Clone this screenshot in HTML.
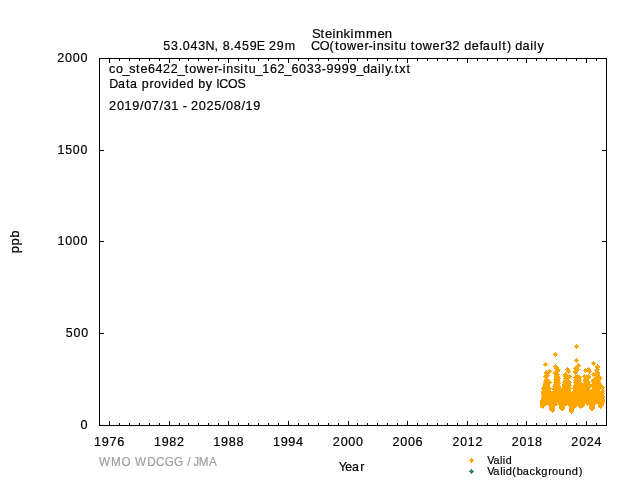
<!DOCTYPE html>
<html><head><meta charset="utf-8"><title>Steinkimmen CO</title>
<style>
html,body{margin:0;padding:0;background:#fff;}
body{width:640px;height:480px;overflow:hidden;font-family:"Liberation Sans",sans-serif;}
svg{display:block;will-change:transform}
text{font-family:"Liberation Sans",sans-serif;stroke-width:0.2px}
</style></head><body>
<svg width="640" height="480" viewBox="0 0 640 480">
<rect width="640" height="480" fill="#fff"/>
<path fill="#ffa500" shape-rendering="crispEdges" d="M576 344h1v1h-1zM575 345h3v1h-3zM574 346h5v1h-5zM575 347h3v1h-3zM576 348h1v1h-1zM555 352h1v1h-1zM554 353h3v1h-3zM553 354h5v1h-5zM554 355h3v1h-3zM555 356h1v1h-1zM576 358h1v1h-1zM575 359h3v1h-3zM574 360h5v1h-5zM575 361h3v1h-3zM593 361h1v1h-1zM545 362h1v1h-1zM576 362h1v1h-1zM592 362h3v1h-3zM544 363h3v1h-3zM578 363h1v1h-1zM591 363h5v1h-5zM543 364h5v1h-5zM555 364h1v1h-1zM577 364h3v1h-3zM592 364h3v1h-3zM597 364h1v1h-1zM544 365h3v1h-3zM554 365h3v1h-3zM576 365h5v1h-5zM593 365h1v1h-1zM596 365h3v1h-3zM545 366h1v1h-1zM553 366h5v1h-5zM575 366h5v1h-5zM595 366h5v1h-5zM554 367h5v1h-5zM567 367h1v1h-1zM574 367h5v1h-5zM588 367h1v1h-1zM595 367h5v1h-5zM554 368h5v1h-5zM566 368h3v1h-3zM573 368h6v1h-6zM585 368h1v1h-1zM587 368h3v1h-3zM596 368h3v1h-3zM549 369h1v1h-1zM555 369h5v1h-5zM565 369h5v1h-5zM574 369h6v1h-6zM584 369h7v1h-7zM595 369h5v1h-5zM546 370h1v1h-1zM548 370h3v1h-3zM555 370h5v1h-5zM566 370h4v1h-4zM574 370h5v1h-5zM583 370h8v1h-8zM594 370h5v1h-5zM545 371h7v1h-7zM554 371h6v1h-6zM566 371h5v1h-5zM573 371h5v1h-5zM584 371h8v1h-8zM595 371h4v1h-4zM544 372h7v1h-7zM553 372h5v1h-5zM565 372h1v1h-1zM567 372h3v1h-3zM573 372h5v1h-5zM585 372h1v1h-1zM588 372h3v1h-3zM593 372h1v1h-1zM595 372h5v1h-5zM544 373h6v1h-6zM553 373h6v1h-6zM564 373h3v1h-3zM568 373h1v1h-1zM574 373h3v1h-3zM589 373h1v1h-1zM592 373h8v1h-8zM545 374h4v1h-4zM554 374h6v1h-6zM563 374h5v1h-5zM569 374h1v1h-1zM575 374h1v1h-1zM577 374h1v1h-1zM584 374h1v1h-1zM588 374h1v1h-1zM591 374h9v1h-9zM544 375h6v1h-6zM554 375h5v1h-5zM563 375h8v1h-8zM575 375h5v1h-5zM583 375h7v1h-7zM592 375h8v1h-8zM543 376h6v1h-6zM554 376h6v1h-6zM563 376h9v1h-9zM574 376h7v1h-7zM582 376h9v1h-9zM593 376h1v1h-1zM595 376h6v1h-6zM544 377h4v1h-4zM554 377h6v1h-6zM564 377h7v1h-7zM573 377h9v1h-9zM583 377h8v1h-8zM594 377h8v1h-8zM545 378h3v1h-3zM554 378h7v1h-7zM563 378h7v1h-7zM574 378h7v1h-7zM584 378h6v1h-6zM593 378h9v1h-9zM544 379h5v1h-5zM553 379h7v1h-7zM564 379h5v1h-5zM574 379h7v1h-7zM583 379h6v1h-6zM592 379h9v1h-9zM544 380h6v1h-6zM554 380h6v1h-6zM563 380h7v1h-7zM573 380h9v1h-9zM583 380h6v1h-6zM591 380h10v1h-10zM543 381h8v1h-8zM554 381h6v1h-6zM563 381h8v1h-8zM574 381h7v1h-7zM583 381h7v1h-7zM591 381h9v1h-9zM544 382h8v1h-8zM553 382h7v1h-7zM562 382h10v1h-10zM573 382h9v1h-9zM584 382h7v1h-7zM592 382h9v1h-9zM543 383h8v1h-8zM554 383h7v1h-7zM563 383h8v1h-8zM574 383h16v1h-16zM592 383h9v1h-9zM543 384h7v1h-7zM553 384h7v1h-7zM562 384h9v1h-9zM574 384h28v1h-28zM543 385h7v1h-7zM553 385h7v1h-7zM562 385h10v1h-10zM573 385h30v1h-30zM542 386h8v1h-8zM552 386h9v1h-9zM562 386h9v1h-9zM573 386h31v1h-31zM542 387h9v1h-9zM553 387h8v1h-8zM562 387h9v1h-9zM573 387h18v1h-18zM592 387h13v1h-13zM541 388h49v1h-49zM592 388h12v1h-12zM542 389h9v1h-9zM552 389h19v1h-19zM573 389h17v1h-17zM591 389h10v1h-10zM602 389h2v1h-2zM542 390h9v1h-9zM553 390h18v1h-18zM573 390h27v1h-27zM601 390h3v1h-3zM541 391h30v1h-30zM572 391h33v1h-33zM541 392h63v1h-63zM541 393h64v1h-64zM541 394h63v1h-63zM542 395h62v1h-62zM541 396h64v1h-64zM542 397h63v1h-63zM541 398h63v1h-63zM541 399h64v1h-64zM540 400h65v1h-65zM540 401h65v1h-65zM540 402h65v1h-65zM540 403h17v1h-17zM558 403h46v1h-46zM540 404h45v1h-45zM586 404h10v1h-10zM598 404h6v1h-6zM540 405h6v1h-6zM548 405h9v1h-9zM559 405h8v1h-8zM568 405h17v1h-17zM587 405h1v1h-1zM589 405h6v1h-6zM598 405h6v1h-6zM540 406h5v1h-5zM549 406h6v1h-6zM559 406h6v1h-6zM569 406h8v1h-8zM578 406h6v1h-6zM589 406h6v1h-6zM598 406h5v1h-5zM541 407h3v1h-3zM549 407h6v1h-6zM559 407h6v1h-6zM569 407h7v1h-7zM579 407h4v1h-4zM589 407h6v1h-6zM599 407h3v1h-3zM542 408h1v1h-1zM549 408h6v1h-6zM559 408h6v1h-6zM569 408h6v1h-6zM580 408h1v1h-1zM589 408h6v1h-6zM600 408h1v1h-1zM549 409h6v1h-6zM560 409h4v1h-4zM569 409h5v1h-5zM590 409h4v1h-4zM550 410h5v1h-5zM561 410h2v1h-2zM569 410h5v1h-5zM591 410h2v1h-2zM551 411h3v1h-3zM569 411h5v1h-5zM552 412h1v1h-1zM570 412h3v1h-3zM571 413h1v1h-1z"/>
<g fill="#000" shape-rendering="crispEdges">
<rect x="99" y="58" width="508" height="1"/>
<rect x="99" y="425" width="508" height="1"/>
<rect x="99" y="58" width="1" height="368"/>
<rect x="606" y="58" width="1" height="368"/>
<rect x="109" y="421" width="1" height="4"/><rect x="109" y="59" width="1" height="4"/><rect x="119" y="423" width="1" height="2"/><rect x="119" y="59" width="1" height="2"/><rect x="129" y="423" width="1" height="2"/><rect x="129" y="59" width="1" height="2"/><rect x="139" y="423" width="1" height="2"/><rect x="139" y="59" width="1" height="2"/><rect x="149" y="423" width="1" height="2"/><rect x="149" y="59" width="1" height="2"/><rect x="159" y="423" width="1" height="2"/><rect x="159" y="59" width="1" height="2"/><rect x="169" y="421" width="1" height="4"/><rect x="169" y="59" width="1" height="4"/><rect x="179" y="423" width="1" height="2"/><rect x="179" y="59" width="1" height="2"/><rect x="188" y="423" width="1" height="2"/><rect x="188" y="59" width="1" height="2"/><rect x="198" y="423" width="1" height="2"/><rect x="198" y="59" width="1" height="2"/><rect x="208" y="423" width="1" height="2"/><rect x="208" y="59" width="1" height="2"/><rect x="218" y="423" width="1" height="2"/><rect x="218" y="59" width="1" height="2"/><rect x="228" y="421" width="1" height="4"/><rect x="228" y="59" width="1" height="4"/><rect x="238" y="423" width="1" height="2"/><rect x="238" y="59" width="1" height="2"/><rect x="248" y="423" width="1" height="2"/><rect x="248" y="59" width="1" height="2"/><rect x="258" y="423" width="1" height="2"/><rect x="258" y="59" width="1" height="2"/><rect x="268" y="423" width="1" height="2"/><rect x="268" y="59" width="1" height="2"/><rect x="278" y="423" width="1" height="2"/><rect x="278" y="59" width="1" height="2"/><rect x="288" y="421" width="1" height="4"/><rect x="288" y="59" width="1" height="4"/><rect x="298" y="423" width="1" height="2"/><rect x="298" y="59" width="1" height="2"/><rect x="308" y="423" width="1" height="2"/><rect x="308" y="59" width="1" height="2"/><rect x="318" y="423" width="1" height="2"/><rect x="318" y="59" width="1" height="2"/><rect x="328" y="423" width="1" height="2"/><rect x="328" y="59" width="1" height="2"/><rect x="338" y="423" width="1" height="2"/><rect x="338" y="59" width="1" height="2"/><rect x="348" y="421" width="1" height="4"/><rect x="348" y="59" width="1" height="4"/><rect x="357" y="423" width="1" height="2"/><rect x="357" y="59" width="1" height="2"/><rect x="367" y="423" width="1" height="2"/><rect x="367" y="59" width="1" height="2"/><rect x="377" y="423" width="1" height="2"/><rect x="377" y="59" width="1" height="2"/><rect x="387" y="423" width="1" height="2"/><rect x="387" y="59" width="1" height="2"/><rect x="397" y="423" width="1" height="2"/><rect x="397" y="59" width="1" height="2"/><rect x="407" y="421" width="1" height="4"/><rect x="407" y="59" width="1" height="4"/><rect x="417" y="423" width="1" height="2"/><rect x="417" y="59" width="1" height="2"/><rect x="427" y="423" width="1" height="2"/><rect x="427" y="59" width="1" height="2"/><rect x="437" y="423" width="1" height="2"/><rect x="437" y="59" width="1" height="2"/><rect x="447" y="423" width="1" height="2"/><rect x="447" y="59" width="1" height="2"/><rect x="457" y="423" width="1" height="2"/><rect x="457" y="59" width="1" height="2"/><rect x="467" y="421" width="1" height="4"/><rect x="467" y="59" width="1" height="4"/><rect x="477" y="423" width="1" height="2"/><rect x="477" y="59" width="1" height="2"/><rect x="487" y="423" width="1" height="2"/><rect x="487" y="59" width="1" height="2"/><rect x="497" y="423" width="1" height="2"/><rect x="497" y="59" width="1" height="2"/><rect x="507" y="423" width="1" height="2"/><rect x="507" y="59" width="1" height="2"/><rect x="517" y="423" width="1" height="2"/><rect x="517" y="59" width="1" height="2"/><rect x="526" y="421" width="1" height="4"/><rect x="526" y="59" width="1" height="4"/><rect x="536" y="423" width="1" height="2"/><rect x="536" y="59" width="1" height="2"/><rect x="546" y="423" width="1" height="2"/><rect x="546" y="59" width="1" height="2"/><rect x="556" y="423" width="1" height="2"/><rect x="556" y="59" width="1" height="2"/><rect x="566" y="423" width="1" height="2"/><rect x="566" y="59" width="1" height="2"/><rect x="576" y="423" width="1" height="2"/><rect x="576" y="59" width="1" height="2"/><rect x="586" y="421" width="1" height="4"/><rect x="586" y="59" width="1" height="4"/><rect x="596" y="423" width="1" height="2"/><rect x="596" y="59" width="1" height="2"/>
<rect x="100" y="425" width="4" height="1"/><rect x="602" y="425" width="4" height="1"/><rect x="100" y="333" width="4" height="1"/><rect x="602" y="333" width="4" height="1"/><rect x="100" y="241" width="4" height="1"/><rect x="602" y="241" width="4" height="1"/><rect x="100" y="150" width="4" height="1"/><rect x="602" y="150" width="4" height="1"/><rect x="100" y="58" width="4" height="1"/><rect x="602" y="58" width="4" height="1"/>
</g>
<text transform="translate(0 38) scale(1.0461 1)" x="298.25 306.49 310.65 317.77 321.09 328.48 335.11 338.65 349.90 360.82 367.92" y="0" font-size="12.5" fill="#000" stroke="#000">Steinkimmen</text>
<text transform="translate(0 50) scale(0.9976 1)" x="163.70 171.51 179.07 183.13 190.88 198.65 206.02 215.13 219.13 223.18 230.75 234.81 242.51 250.28 257.31 265.65 269.54 277.41 285.54" y="0" font-size="12.5" fill="#000" stroke="#000">53.043N, 8.459E 29m</text>
<text transform="translate(0 50) scale(1.0150 1)" x="306.38 315.13 324.70 330.06 334.38 341.79 351.43 359.06 362.95 367.57 371.07 378.37 384.89 388.64 393.06 400.52 404.71 409.03 416.44 426.07 433.71 438.47 445.86 453.43 457.28 464.82 472.37 475.67 483.46 491.03 494.79 499.50 503.83 507.67 514.72 522.53 525.99 529.57" y="0" font-size="12.5" fill="#000" stroke="#000">CO(tower-insitu tower32 default) daily</text>
<text transform="translate(0 73) scale(1.0038 1)" x="108.60 115.44 122.10 128.67 135.52 139.94 147.34 154.97 162.43 170.06 177.05 184.12 188.50 195.99 205.69 213.38 217.30 221.95 225.50 232.86 239.42 243.21 247.69 254.56 261.32 269.01 276.47 283.47 290.29 297.91 305.55 313.18 320.54 325.20 332.82 340.44 348.07 354.94 361.69 368.80 376.65 380.14 383.77 388.92 393.15 397.72 404.90" y="0" font-size="12.5" fill="#000" stroke="#000">co_ste6422_tower-insitu_162_6033-9999_daily.txt</text>
<text transform="translate(0 88) scale(0.9921 1)" x="110.03 118.92 127.09 131.06 138.82 142.91 150.78 155.16 162.74 169.62 173.12 180.77 188.14 195.72 199.80 207.48 214.25 217.95 221.07 229.95 239.38" y="0" font-size="12.5" fill="#000" stroke="#000">Data provided by ICOS</text>
<text transform="translate(0 110) scale(1.0172 1)" x="107.27 114.98 122.46 130.04 137.60 141.72 149.24 156.79 160.92 168.39 175.87 179.55 184.05 187.81 195.51 202.91 210.57 218.14 222.25 229.80 237.33 241.38 248.95" y="0" font-size="12.5" fill="#000" stroke="#000">2019/07/31 - 2025/08/19</text>
<text transform="translate(0 429) scale(1.0120 1)" x="79.51" y="0" font-size="12.5" fill="#000" stroke="#000">0</text>
<text transform="translate(0 337) scale(0.9931 1)" x="66.28 74.06 81.79" y="0" font-size="12.5" fill="#000" stroke="#000">500</text>
<text transform="translate(0 245) scale(1.0015 1)" x="57.31 65.04 72.71 80.38" y="0" font-size="12.5" fill="#000" stroke="#000">1000</text>
<text transform="translate(0 154) scale(0.9869 1)" x="58.21 66.00 73.83 81.61" y="0" font-size="12.5" fill="#000" stroke="#000">1500</text>
<text transform="translate(0 62) scale(1.0032 1)" x="57.11 64.92 72.58 80.24" y="0" font-size="12.5" fill="#000" stroke="#000">2000</text>
<text transform="translate(0 446) scale(1.0131 1)" x="92.83 100.44 108.03 115.64" y="0" font-size="12.5" fill="#000" stroke="#000">1976</text>
<text transform="translate(0 446) scale(1.0033 1)" x="153.45 161.13 168.82 176.32" y="0" font-size="12.5" fill="#000" stroke="#000">1982</text>
<text transform="translate(0 446) scale(1.0153 1)" x="210.16 217.75 225.35 232.92" y="0" font-size="12.5" fill="#000" stroke="#000">1988</text>
<text transform="translate(0 446) scale(1.0180 1)" x="268.11 275.68 283.22 290.80" y="0" font-size="12.5" fill="#000" stroke="#000">1994</text>
<text transform="translate(0 446) scale(1.0032 1)" x="331.77 339.58 347.24 354.90" y="0" font-size="12.5" fill="#000" stroke="#000">2000</text>
<text transform="translate(0 446) scale(1.0118 1)" x="387.84 395.59 403.18 410.77" y="0" font-size="12.5" fill="#000" stroke="#000">2006</text>
<text transform="translate(0 446) scale(0.9829 1)" x="460.25 468.22 475.98 483.69" y="0" font-size="12.5" fill="#000" stroke="#000">2012</text>
<text transform="translate(0 446) scale(0.9950 1)" x="514.37 522.24 529.90 537.68" y="0" font-size="12.5" fill="#000" stroke="#000">2018</text>
<text transform="translate(0 446) scale(0.9944 1)" x="574.58 582.47 590.03 597.91" y="0" font-size="12.5" fill="#000" stroke="#000">2024</text>
<text transform="translate(0 466) scale(0.9362 1)" x="105.86 118.68 129.76 140.08 144.29 157.24 166.54 175.92 185.78 195.85 200.06 204.36 206.32 212.21 223.32" y="0" font-size="12.5" fill="#a0a0a0" stroke="#a0a0a0">WMO WDCGG / JMA</text>
<text transform="translate(0 471) scale(0.9848 1)" x="343.93 350.52 357.50 365.84" y="0" font-size="12.5" fill="#000" stroke="#000">Year</text>
<text transform="translate(0 464) scale(0.9703 1)" x="502.24 508.50 515.32 518.22 521.16" y="0" font-size="11.0" fill="#000" stroke="#000">Valid</text>
<text transform="translate(0 475) scale(0.9996 1)" x="487.40 493.57 500.35 503.21 506.06 512.43 516.97 523.04 529.63 535.70 541.55 548.52 552.28 558.71 565.41 571.98 578.90" y="0" font-size="11.0" fill="#000" stroke="#000">Valid(background)</text>
<text transform="translate(19 253.4) rotate(-90) scale(1.0444 1)" x="0.24 7.59 14.94" y="0" font-size="12.5" fill="#000" stroke="#000">ppb</text>
<path d="M471 458h1v1h-1zM470 459h3v1h-3zM469 460h5v1h-5zM470 461h3v1h-3zM471 462h1v1h-1z" fill="#ffa500" shape-rendering="crispEdges"/>
<path d="M471 469h1v1h-1zM470 470h3v1h-3zM469 471h5v1h-5zM470 472h3v1h-3zM471 473h1v1h-1z" fill="#2e8b57" shape-rendering="crispEdges"/>
</svg>
</body></html>
